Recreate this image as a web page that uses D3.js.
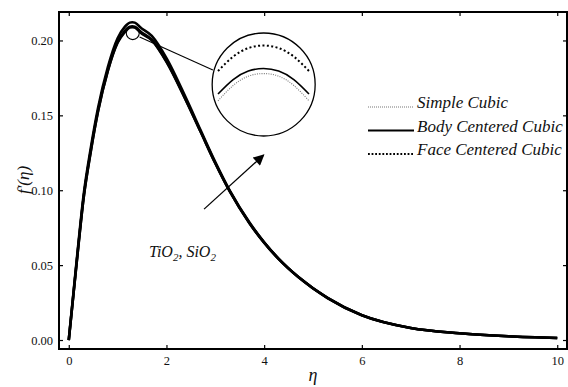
<!DOCTYPE html>
<html>
<head>
<meta charset="utf-8">
<script src="https://d3js.org/d3.v7.min.js"></script>
<style>
  body { margin: 0; background: #fff; }
  svg { display: block; }
  svg text { font-family: "Liberation Serif", "Times New Roman", "DejaVu Serif", serif !important; fill: #111; }
  .it { font-style: italic; }
</style>
</head>
<body>
<div id="chart"></div>
<script>
// eta grid shared by the three series
var eta = [0, 0.1, 0.2, 0.3, 0.45, 0.6, 0.8, 1.0, 1.15, 1.2, 1.25, 1.3, 1.35, 1.4, 1.45,
           1.7, 2.0, 2.4, 2.7, 3.0, 3.3, 3.7, 4.0, 4.3, 4.7, 5.3, 6, 7, 8, 9, 10];

var simpleCubic = [0, 0.0318, 0.0637, 0.0937, 0.1257, 0.1527, 0.1797, 0.1985, 0.2057, 0.2075, 0.2086, 0.2089,
                   0.2086, 0.2075, 0.2057, 0.2001, 0.1858, 0.1599, 0.139, 0.118, 0.099, 0.078, 0.065,
                   0.054, 0.042, 0.028, 0.0165, 0.008, 0.0045, 0.0025, 0.0013];
var bodyCentered = [0, 0.032, 0.064, 0.094, 0.126, 0.153, 0.180, 0.199, 0.2065, 0.2082, 0.2092, 0.2095,
                    0.2092, 0.2082, 0.2065, 0.2005, 0.186, 0.160, 0.139, 0.118, 0.099, 0.078, 0.065,
                    0.054, 0.042, 0.028, 0.0165, 0.008, 0.0045, 0.0025, 0.0013];
var faceCentered = [0, 0.033, 0.0655, 0.0958, 0.128, 0.155, 0.1822, 0.2015, 0.2092, 0.2109, 0.2119, 0.2122,
                    0.2119, 0.2109, 0.2092, 0.2030, 0.1882, 0.1615, 0.140, 0.1188, 0.0995, 0.0784, 0.0653,
                    0.0542, 0.0421, 0.0281, 0.0166, 0.008, 0.0045, 0.0025, 0.0013];

var xTicks = [0, 2, 4, 6, 8, 10];
var yTicks = [0, 0.05, 0.10, 0.15, 0.20];
var legendLabels = ["Simple Cubic", "Body Centered Cubic", "Face Centered Cubic"];

var W = 568, H = 387;
var SERIF = "'Liberation Serif', 'Times New Roman', 'DejaVu Serif', serif";
var svg = d3.select("#chart").append("svg").attr("width", W).attr("height", H);

var x = d3.scaleLinear().domain([-0.2, 10.2]).range([59, 567]);
var y = d3.scaleLinear().domain([-0.006, 0.219]).range([349, 12]);

// frame + ticks
var g = svg.append("g");
g.append("g").attr("transform", "translate(0," + y.range()[0] + ")")
  .call(d3.axisBottom(x).tickValues(xTicks).tickSize(-4).tickPadding(7).tickFormat(d3.format("d")))
  .call(function (a) { a.select(".domain").remove(); });
g.append("g").attr("transform", "translate(" + x.range()[0] + ",0)")
  .call(d3.axisLeft(y).tickValues(yTicks).tickSize(-4).tickPadding(6).tickFormat(d3.format(".2f")))
  .call(function (a) { a.select(".domain").remove(); });
g.append("g").attr("transform", "translate(0," + y.range()[1] + ")")
  .call(d3.axisTop(x).tickValues(xTicks).tickSize(-4).tickFormat(""))
  .call(function (a) { a.select(".domain").remove(); });
g.append("g").attr("transform", "translate(" + x.range()[1] + ",0)")
  .call(d3.axisRight(y).tickValues(yTicks).tickSize(-4).tickFormat(""))
  .call(function (a) { a.select(".domain").remove(); });
g.selectAll("g").attr("font-family", SERIF);
g.selectAll(".tick text").style("font-size", "12.5px").attr("fill", "#222");
g.selectAll(".tick line").attr("stroke", "#000").attr("stroke-width", 1.2);

svg.append("rect")
  .attr("x", x.range()[0]).attr("y", y.range()[1])
  .attr("width", x.range()[1] - x.range()[0]).attr("height", y.range()[0] - y.range()[1])
  .attr("fill", "none").attr("stroke", "#000").attr("stroke-width", 2);

// main curves
var line = d3.line().curve(d3.curveMonotoneX)
  .x(function (d, i) { return x(eta[i]); })
  .y(function (d) { return y(d); });

[simpleCubic, bodyCentered, faceCentered].forEach(function (s) {
  svg.append("path").datum(s).attr("d", line)
    .attr("fill", "none").attr("stroke", "#000").attr("stroke-width", 2.6);
});

// zoom marker on the peak
svg.append("circle").attr("cx", x(1.31)).attr("cy", y(0.2049)).attr("r", 6.5)
  .attr("fill", "none").attr("stroke", "#000").attr("stroke-width", 1.1);
svg.append("line")
  .attr("x1", x(1.45)).attr("y1", y(0.2023))
  .attr("x2", x(2.95)).attr("y2", y(0.1803))
  .attr("stroke", "#000").attr("stroke-width", 1.1);

// magnifier inset
var inset = svg.append("g");
inset.append("circle").attr("cx", x(3.99)).attr("cy", y(0.1706)).attr("r", 51.5)
  .attr("fill", "#fff").attr("stroke", "#000").attr("stroke-width", 1.3);
var ix = d3.scaleLinear().domain([1.15, 1.45]).range([218, 309]);
var iy = d3.scaleLinear().domain([0.2065, 0.2125]).range([94, 43]);
var insetIdx = eta.map(function (e, i) { return i; }).filter(function (i) { return eta[i] >= 1.15 && eta[i] <= 1.45; });
var iline = d3.line().curve(d3.curveNatural)
  .x(function (i) { return ix(eta[i]); });

var styles = [
  { s: simpleCubic, color: "#777", w: 1.1, dash: "1,1.3" },
  { s: bodyCentered, color: "#000", w: 1.6, dash: null },
  { s: faceCentered, color: "#000", w: 2, dash: "2,2.4" }
];
styles.forEach(function (st) {
  inset.append("path").datum(insetIdx)
    .attr("d", iline.y(function (i) { return iy(st.s[i]); }))
    .attr("fill", "none").attr("stroke", st.color).attr("stroke-width", st.w)
    .attr("stroke-dasharray", st.dash);
});

// arrow
svg.append("defs").append("marker")
  .attr("id", "ah").attr("viewBox", "0 0 10 10").attr("refX", 9).attr("refY", 5)
  .attr("markerUnits", "userSpaceOnUse").attr("orient", "auto")
  .attr("markerWidth", 14).attr("markerHeight", 11)
  .append("path").attr("d", "M0,0L10,5L0,10z").attr("fill", "#000");
svg.append("line")
  .attr("x1", x(2.77)).attr("y1", y(0.0874))
  .attr("x2", x(3.99)).attr("y2", y(0.1235))
  .attr("stroke", "#000").attr("stroke-width", 1.3).attr("marker-end", "url(#ah)");

// annotation
var ann = svg.append("text").attr("class", "it").attr("x", x(1.64)).attr("y", y(0.0555)).style("font-size", "16px");
ann.append("tspan").text("TiO");
ann.append("tspan").text("2").attr("dy", 4).style("font-size", "11px");
ann.append("tspan").text(", SiO").attr("dy", -4);
ann.append("tspan").text("2").attr("dy", 4).style("font-size", "11px");

// legend
var leg = svg.append("g");
legendLabels.forEach(function (lab, i) {
  var ly = 107 + i * 23.5;
  var st = styles[i];
  leg.append("line").attr("x1", 368).attr("x2", 414).attr("y1", ly).attr("y2", ly)
    .attr("stroke", st.color).attr("stroke-width", i === 1 ? 2 : (i === 0 ? 1.1 : 1.8))
    .attr("stroke-dasharray", i === 1 ? null : (i === 0 ? "1,1" : "1.8,1.8"));
  leg.append("text").attr("class", "it").attr("x", 417).attr("y", ly + 1)
    .style("font-size", "17px").text(lab);
});

// axis titles
svg.append("text").attr("class", "it").attr("x", 313).attr("y", 381)
  .attr("text-anchor", "middle").style("font-size", "18px").text("η");
svg.append("text").attr("class", "it")
  .attr("transform", "translate(29,180) rotate(-90)")
  .attr("text-anchor", "middle").style("font-size", "17px").text("f′(η)");
</script>
</body>
</html>
